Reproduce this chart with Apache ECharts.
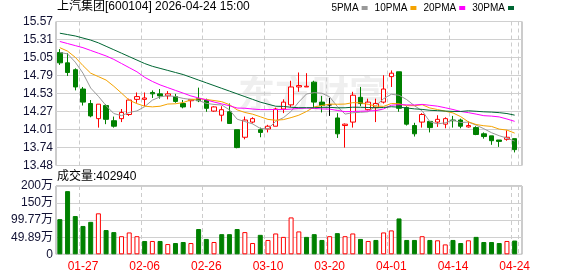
<!DOCTYPE html>
<html><head><meta charset="utf-8">
<script src="https://cdn.jsdelivr.net/npm/echarts@6/dist/echarts.min.js"></script>
<style>html,body{margin:0;padding:0;background:#fff}#c{width:578px;height:276px}</style>
</head><body><div id="c"></div>
<script>
const stockName = '上汽集团';
const stockCode = '600104';
const stampText = '2026-04-24 15:00';
const dates = ['01-22','01-23','01-26','01-27','01-28','01-29','01-30','02-02','02-03','02-04','02-05','02-06','02-09','02-10','02-11','02-12','02-13','02-24','02-25','02-26','02-27','03-02','03-03','03-04','03-05','03-06','03-09','03-10','03-11','03-12','03-13','03-16','03-17','03-18','03-19','03-20','03-23','03-24','03-25','03-26','03-27','03-30','03-31','04-01','04-02','04-03','04-07','04-08','04-09','04-10','04-13','04-14','04-15','04-16','04-17','04-20','04-21','04-22','04-23','04-24'];
const opens  = [15.12,14.97,14.87,14.59,14.38,14.16,14.35,14.13,14.16,14.22,14.44,14.44,14.54,14.52,14.49,14.48,14.38,14.42,14.45,14.43,14.27,14.21,14.26,14.00,13.89,14.11,14.00,14.01,14.05,14.30,14.36,14.62,14.62,14.69,14.40,14.36,14.17,14.06,14.11,14.47,14.29,14.32,14.40,14.77,14.84,14.32,14.06,14.11,14.12,14.11,14.08,14.14,14.14,14.04,14.03,13.94,13.91,13.85,13.86,13.87];
const closes = [14.97,14.83,14.62,14.40,14.20,14.37,14.15,14.05,14.25,14.43,14.48,14.46,14.52,14.49,14.52,14.41,14.33,14.44,14.42,14.31,14.33,14.29,14.09,13.74,14.14,14.16,13.96,14.05,14.30,14.40,14.62,14.64,14.63,14.40,14.35,14.36,13.94,14.08,14.50,14.38,14.40,14.38,14.59,14.82,14.31,14.08,13.94,14.22,14.03,14.15,14.16,14.13,14.05,14.06,13.93,13.90,13.84,13.83,13.89,13.71];
const highs  = [15.17,15.11,14.89,14.62,14.43,14.37,14.37,14.19,14.30,14.45,14.54,14.54,14.57,14.59,14.56,14.52,14.43,14.44,14.61,14.45,14.34,14.34,14.38,14.00,14.19,14.18,14.03,14.07,14.32,14.44,14.71,14.83,14.82,14.71,14.49,14.46,14.24,14.09,14.55,14.62,14.45,14.45,14.79,14.86,14.84,14.34,14.10,14.24,14.12,14.21,14.18,14.20,14.16,14.12,14.05,13.96,13.91,13.85,13.99,13.87];
const lows   = [14.94,14.78,14.57,14.35,14.18,14.03,14.08,14.03,14.11,14.20,14.39,14.34,14.46,14.45,14.44,14.39,14.31,14.32,14.40,14.26,14.26,14.12,14.09,13.73,13.86,14.09,13.89,13.96,14.05,14.24,14.33,14.55,14.62,14.32,14.25,14.20,13.88,13.74,14.03,14.34,14.28,14.11,14.38,14.62,14.26,14.06,13.90,14.03,13.96,14.04,14.02,14.03,14.02,14.03,13.92,13.87,13.78,13.75,13.84,13.67];
const volumes = [1030000,1850000,1120000,830000,950000,1200000,710000,650000,530000,640000,530000,390000,390000,390000,300000,330000,360000,330000,740000,450000,360000,590000,590000,740000,650000,330000,570000,420000,610000,510000,1080000,670000,510000,590000,420000,530000,620000,530000,610000,450000,390000,420000,640000,700000,1050000,420000,420000,530000,420000,410000,290000,420000,330000,410000,510000,360000,360000,330000,390000,402940];
// moving-average values before enough days are in view
const ma5Head  = [15.12,15.10,14.98,14.82];
const ma10Head = [15.19,15.14,15.05,14.93,14.82,14.77,14.72,14.63,14.53];
const ma20Head = [15.28,15.25,15.22,15.19,15.15,15.11,15.07,15.02,14.96,14.90,14.84,14.76,14.70,14.65,14.61,14.57,14.53,14.49,14.46];
const ma30Head = [15.40,15.38,15.36,15.33,15.30,15.26,15.21,15.16,15.11,15.06,15.01,14.96,14.92,14.89,14.86,14.83,14.80,14.76,14.72,14.68,14.64,14.60,14.56,14.52,14.48,14.44,14.40,14.37,14.34];
const priceTicks = ['13.48','13.74','14.01','14.27','14.53','14.79','15.05','15.31','15.57'];
const volTicks = ['0','49.89万','99.77万','150万','200万'];
const maNames = ['5PMA','10PMA','20PMA','30PMA'];
const maColors = ['#999999','#f5a300','#ff00ff','#006633'];

function ma(n, head) {
  return closes.map((c, i) => {
    if (i < n - 1) return head[i];
    let s = 0; for (let k = i - n + 1; k <= i; k++) s += closes[k];
    return +(s / n).toFixed(3);
  });
}
const maData = [ma(5, ma5Head), ma(10, ma10Head), ma(20, ma20Head), ma(30, ma30Head)];

const RED = '#ff0000', GREEN = '#008000';
const candleData = dates.map((d, i) => {
  const v = [opens[i], closes[i], lows[i], highs[i]];
  if (opens[i] === closes[i]) return { value: v, itemStyle: { color: '#000', color0: '#000', borderColor: '#000', borderColor0: '#000' } };
  return v;
});
const volData = volumes.map((v, i) => {
  const up = i === 0 ? closes[i] >= opens[i] : closes[i] >= closes[i - 1];
  return { value: v, itemStyle: up ? { color: '#ffffff', borderColor: RED, borderWidth: 1 } : { color: GREEN, borderColor: GREEN, borderWidth: 1 } };
});

const FONT = '"Liberation Sans", "Noto Sans CJK SC", sans-serif';
const labelIdx = (i) => i % 8 === 3;
const L = 56, W_FRAME = 466, W_DATA = 462.5;
const P_TOP = 21.5, P_H = 144, V_TOP = 186, V_H = 68.3;

const chart = echarts.init(document.getElementById('c'), null, { renderer: 'canvas' });
chart.setOption({
  animation: false,
  backgroundColor: '#fff',
  title: [
    { text: stockName + '[' + stockCode + '] ' + stampText, left: 57, top: 1, padding: 0,
      textStyle: { fontSize: 12, fontWeight: 'normal', color: '#000', fontFamily: FONT } },
    { text: '成交量:' + volumes[volumes.length - 1], left: 57, top: 171, padding: 0,
      textStyle: { fontSize: 12, fontWeight: 'normal', color: '#000', fontFamily: FONT } }
  ],
  legend: {
    data: maNames, right: 64, top: 3, padding: 0, align: 'right', icon: 'rect',
    itemWidth: 6, itemHeight: 4, itemGap: 7,
    textStyle: { fontSize: 10, color: '#000', fontFamily: FONT, padding: [0, -2, 0, 0] }
  },
  graphic: [
    { type: 'text', left: 238, top: 75, z: -10, silent: true,
      style: { text: '东方财富', fontSize: 37, fontWeight: 'bold', fill: '#efefef', fontFamily: '"Noto Sans CJK SC", sans-serif' } }
  ],
  grid: [
    { left: L, top: P_TOP, width: W_FRAME, height: P_H, show: true, borderColor: '#999', borderWidth: 1, backgroundColor: 'transparent' },
    { left: L, top: P_TOP, width: W_DATA, height: P_H },
    { left: L, top: V_TOP, width: W_FRAME, height: V_H, show: true, borderColor: '#999', borderWidth: 1, backgroundColor: 'transparent' },
    { left: L, top: V_TOP, width: W_DATA, height: V_H }
  ],
  xAxis: [
    { gridIndex: 0, type: 'value', min: 0, max: 1, show: false },
    { gridIndex: 1, type: 'category', data: dates, boundaryGap: true,
      axisLine: { show: false }, axisTick: { show: false }, axisLabel: { show: false },
      splitLine: { show: true, interval: labelIdx, lineStyle: { color: '#cccccc', type: [4, 3], width: 1 } } },
    { gridIndex: 2, type: 'value', min: 0, max: 1, show: false },
    { gridIndex: 3, type: 'category', data: dates, boundaryGap: true,
      axisLine: { show: false }, axisTick: { show: false },
      axisLabel: { show: true, interval: labelIdx, color: RED, fontSize: 12, fontFamily: FONT, margin: 6 },
      splitLine: { show: true, interval: labelIdx, lineStyle: { color: '#cccccc', type: [4, 3], width: 1 } } }
  ],
  yAxis: [
    { gridIndex: 0, type: 'value', min: 0, max: priceTicks.length - 1, interval: 1,
      axisLine: { show: false }, axisTick: { show: false },
      axisLabel: { color: '#111133', fontSize: 12, fontFamily: FONT, margin: 3, formatter: (v) => priceTicks[Math.round(v)] },
      splitLine: { show: true, lineStyle: { color: '#d0d0d0', width: 1 } } },
    { gridIndex: 1, type: 'value', min: 13.48, max: 15.57, show: false, splitLine: { show: false } },
    { gridIndex: 2, type: 'value', min: 0, max: volTicks.length - 1, interval: 1,
      axisLine: { show: false }, axisTick: { show: false },
      axisLabel: { color: '#111133', fontSize: 12, fontFamily: FONT, margin: 3, formatter: (v) => volTicks[Math.round(v)] },
      splitLine: { show: true, lineStyle: { color: '#d0d0d0', width: 1 } } },
    { gridIndex: 3, type: 'value', min: 0, max: 2000000, show: false, splitLine: { show: false } }
  ],
  series: [
    { type: 'candlestick', name: 'K', xAxisIndex: 1, yAxisIndex: 1, barWidth: 5, data: candleData,
      itemStyle: { color: '#ffffff', color0: GREEN, borderColor: RED, borderColor0: GREEN, borderWidth: 1 } },
    ...maNames.map((n, k) => ({
      type: 'line', name: n, xAxisIndex: 1, yAxisIndex: 1, data: maData[k], symbol: 'none', showSymbol: false,
      color: maColors[k], lineStyle: { width: 1, color: maColors[k] }, z: 3
    })),
    { type: 'bar', name: 'VOL', xAxisIndex: 3, yAxisIndex: 3, barWidth: 5, data: volData }
  ]
});
</script></body></html>
